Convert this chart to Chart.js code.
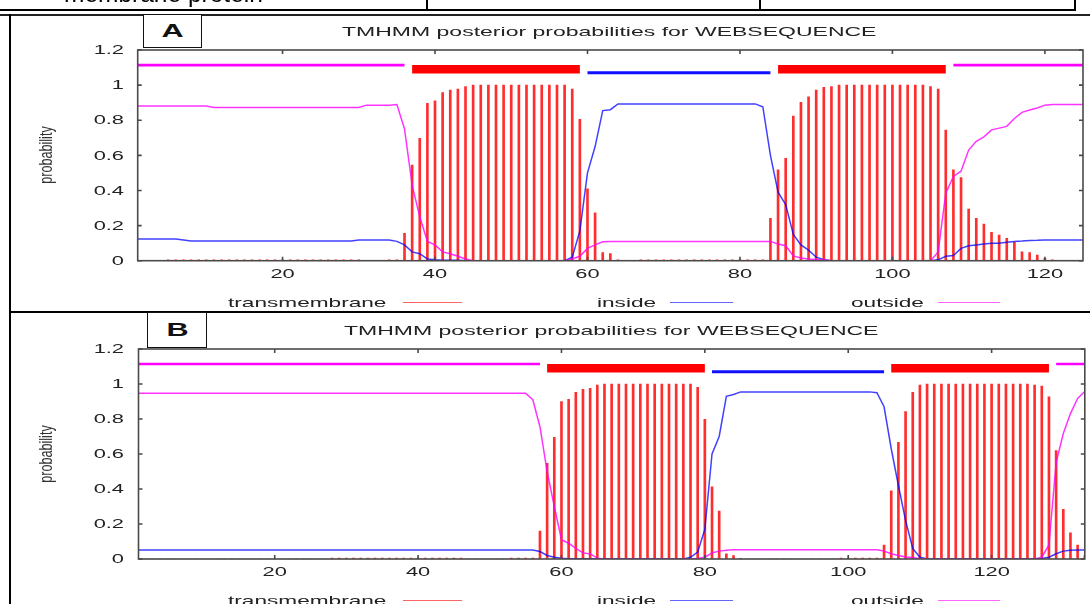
<!DOCTYPE html>
<html>
<head>
<meta charset="utf-8">
<script src="https://cdn.jsdelivr.net/npm/chart.js@4"></script>
<style>
  body { margin: 0; width: 1090px; height: 604px; overflow: hidden; position: relative; background: #fff;
         font-family: "Liberation Sans", Arial, sans-serif; }
  canvas { position: absolute; left: 0; top: 0; }
  .ln { position: absolute; background: #000; }
  .st { position: absolute; white-space: nowrap; font-size: 13px; line-height: 13px; color: #222;
        transform-origin: 0 0; }
  .box { position: absolute; border: 1.5px solid #111; box-sizing: border-box; background: #fff;
         display: flex; align-items: center; justify-content: center; }
  .box span { font-weight: bold; font-size: 18px; transform: scaleX(1.7); color: #111; }
  .ylab { position: absolute; font-size: 18px; color: #333; white-space: nowrap;
          transform: translate(-50%, -50%) rotate(-90deg) scaleX(0.7); }
  .key { position: absolute; height: 1.5px; }
</style>
</head>
<body>
<canvas id="chartA" width="1090" height="604"></canvas>
<canvas id="chartB" width="1090" height="604"></canvas>

<!-- document table lines -->
<div style="position:absolute;left:64px;top:-17.7px;font-size:24.5px;line-height:24.5px;white-space:nowrap;">membrane protein</div>
<div class="ln" style="left:0;top:9px;width:1076px;height:2px;"></div>
<div class="ln" style="left:426px;top:0;width:2px;height:10px;"></div>
<div class="ln" style="left:759px;top:0;width:2px;height:10px;"></div>
<div class="ln" style="left:1074px;top:0;width:2px;height:10px;"></div>
<div class="ln" style="left:0;top:14px;width:1090px;height:1.5px;background:#222;"></div>
<div class="ln" style="left:9px;top:14px;width:2px;height:590px;"></div>
<div class="ln" style="left:10px;top:311px;width:1080px;height:1.5px;"></div>

<!-- panel A -->
<div class="box" style="left:143px;top:14px;width:59px;height:34px;"><span>A</span></div>
<div class="st" style="left:342px;top:25px;transform:scaleX(1.77);">TMHMM posterior probabilities for WEBSEQUENCE</div>
<div class="ylab" style="left:46px;top:155.4px;">probability</div>
<div class="st" style="left:228px;top:295.7px;transform:scaleX(1.74);">transmembrane</div>
<div class="key" style="left:403px;top:301.5px;width:59px;background:#ff6464;"></div>
<div class="st" style="left:597px;top:295.7px;transform:scaleX(1.74);">inside</div>
<div class="key" style="left:670px;top:301.5px;width:63px;background:#6464ff;"></div>
<div class="st" style="left:851px;top:295.7px;transform:scaleX(1.74);">outside</div>
<div class="key" style="left:938px;top:301.5px;width:62px;background:#ff64ff;"></div>

<!-- panel B -->
<div class="box" style="left:147px;top:312px;width:60px;height:36px;"><span>B</span></div>
<div class="st" style="left:344px;top:323.5px;transform:scaleX(1.77);">TMHMM posterior probabilities for WEBSEQUENCE</div>
<div class="ylab" style="left:46px;top:454px;">probability</div>
<div class="st" style="left:228px;top:594px;transform:scaleX(1.74);">transmembrane</div>
<div class="key" style="left:403px;top:599.8px;width:59px;background:#ff6464;"></div>
<div class="st" style="left:597px;top:594px;transform:scaleX(1.74);">inside</div>
<div class="key" style="left:670px;top:599.8px;width:63px;background:#6464ff;"></div>
<div class="st" style="left:851px;top:594px;transform:scaleX(1.74);">outside</div>
<div class="key" style="left:938px;top:599.8px;width:62px;background:#ff64ff;"></div>

<script>
// tick labels
const xTickValues = [20, 40, 60, 80, 100, 120];
const yTickValues = [0, 0.2, 0.4, 0.6, 0.8, 1, 1.2];

// levels of the predicted-topology strip at the top of each plot
const topLevels = { outside: 1.114, TMhelix: 1.09, inside: 1.07 };

// ---------- A: 125 residues ----------
const lengthA = 125;
const segmentsA = [['outside', 1, 36], ['TMhelix', 37, 59], ['inside', 60, 84], ['TMhelix', 85, 107], ['outside', 108, 125]];

const tmA = [
  0, 0, 0, 0, .005, .005, .005, .005, .005, .005,               // 1-10
  .005, .005, .005, .005, .005, .005, .005, .005, .005, .005,   // 11-20
  .005, .005, .005, .005, .005, .005, .005, .005, .005, .005,   // 21-30
  0, 0, 0, .005, .005, .156, .545, .697, .896, .911,            // 31-40
  .957, .972, .978, .991, 1, 1, 1, 1, 1, 1,                     // 41-50
  1, 1, 1, 1, 1, 1, 1, .978, .805, .41,                         // 51-60
  .273, .046, .04, .005, 0, 0, .005, .005, .005, .005,          // 61-70
  .005, .005, .005, .005, .005, .005, .005, .005, .005, .005,   // 71-80
  .005, .005, .005, .241, .517, .583, .824, .902, .934, .972,   // 81-90
  .987, .991, 1, 1, 1, 1, 1, 1, 1, 1,                           // 91-100
  1, 1, 1, 1, .991, .978, .744, .517, .473, .294,               // 101-110
  .241, .209, .162, .146, .127, .105, .051, .046, .032, .014,   // 111-120
  .005, 0, 0, 0, 0                                              // 121-125
];
const insideA = [
  .124, .124, .124, .124, .124, .124, .118, .112, .112, .112,
  .112, .112, .112, .112, .112, .112, .112, .112, .112, .112,
  .112, .112, .112, .112, .112, .112, .112, .112, .112, .118,
  .118, .118, .118, .118, .11, .09, .05, .04, .01, .005,
  .002, .002, .002, 0, 0, 0, 0, 0, 0, 0,
  0, 0, 0, 0, 0, 0, 0, .02, .17, .5,
  .65, .855, .86, .893, .893, .893, .893, .893, .893, .893,
  .893, .893, .893, .893, .893, .893, .893, .893, .893, .893,
  .893, .893, .877, .6, .39, .32, .15, .09, .06, .02,
  .005, 0, 0, 0, 0, 0, 0, 0, 0, 0,
  0, 0, 0, 0, 0, .005, .025, .03, .07, .085,
  .09, .095, .1, .1, .105, .11, .112, .115, .116, .118,
  .118, .118, .118, .118, .118
];
const outsideA = [
  .881, .881, .881, .881, .881, .881, .881, .881, .881, .881,
  .873, .873, .873, .873, .873, .873, .873, .873, .873, .873,
  .873, .873, .873, .873, .873, .873, .873, .873, .873, .873,
  .886, .886, .886, .886, .89, .75, .43, .25, .11, .09,
  .05, .04, .025, .01, 0, 0, 0, 0, 0, 0,
  0, 0, 0, 0, 0, 0, 0, .01, .025, .07,
  .09, .108, .11, .11, .11, .11, .11, .11, .11, .11,
  .11, .11, .11, .11, .11, .11, .11, .11, .11, .11,
  .11, .11, .11, .11, .095, .085, .027, .015, .01, .007,
  .005, 0, 0, 0, 0, 0, 0, 0, 0, 0,
  0, 0, 0, 0, 0, .05, .384, .48, .51, .63,
  .68, .705, .745, .755, .765, .81, .845, .858, .87, .886,
  .89, .89, .89, .89, .89
];

// ---------- B: 133 residues ----------
const lengthB = 133;
const segmentsB = [['outside', 1, 57], ['TMhelix', 58, 80], ['inside', 81, 105], ['TMhelix', 106, 128], ['outside', 129, 133]];

const tmB = [
  0, 0, 0, 0, 0, 0, 0, 0, 0, 0,                                 // 1-10
  0, 0, 0, 0, 0, 0, 0, 0, 0, 0,                                 // 11-20
  0, 0, 0, 0, 0, 0, 0, .005, .005, .005,                        // 21-30
  .005, .005, .005, .005, .005, .005, .005, .005, .005, .005,   // 31-40
  .005, .005, .005, .005, .005, .005, 0, 0, 0, 0,               // 41-50
  0, 0, .005, .005, .005, .005, .16, .547, .695, .899,          // 51-60
  .912, .952, .97, .975, .994, 1, 1, 1, 1, 1,                   // 61-70
  1, 1, 1, 1, 1, 1, 1, 1, .981, .798,                           // 71-80
  .413, .274, .029, .019, .004, 0, 0, 0, 0, 0,                  // 81-90
  0, 0, 0, 0, 0, 0, 0, 0, .005, .005,                           // 91-100
  .005, .005, .005, .005, .08, .389, .667, .842, .952, .994,    // 101-110
  1, 1, 1, 1, 1, 1, 1, 1, 1, 1,                                 // 111-120
  1, 1, 1, 1, 1, .994, .988, .927, .619, .284,                  // 121-130
  .15, .08, .02                                                 // 131-133
];
const insideB = [
  .051, .051, .051, .051, .051, .051, .051, .051, .051, .051,
  .051, .051, .051, .051, .051, .051, .051, .051, .051, .051,
  .051, .051, .051, .051, .051, .051, .051, .051, .051, .051,
  .051, .051, .051, .051, .051, .051, .051, .051, .051, .051,
  .051, .051, .051, .051, .051, .051, .051, .051, .051, .051,
  .051, .051, .051, .051, .051, .051, .043, .02, .01, .004,
  .002, .002, .002, .002, 0, 0, 0, 0, 0, 0,
  0, 0, 0, 0, 0, 0, 0, .01, .04, .17,
  .6, .7, .93, .94, .955, .955, .955, .955, .955, .955,
  .955, .955, .955, .955, .955, .955, .955, .955, .955, .955,
  .955, .955, .955, .95, .87, .63, .42, .22, .06, .01,
  0, 0, 0, 0, 0, 0, 0, 0, 0, 0,
  0, 0, 0, 0, 0, 0, .003, .01, .03, .045,
  .05, .052, .052
];
const outsideB = [
  .947, .947, .947, .947, .947, .947, .947, .947, .947, .947,
  .947, .947, .947, .947, .947, .947, .947, .947, .947, .947,
  .947, .947, .947, .947, .947, .947, .947, .947, .947, .947,
  .947, .947, .947, .947, .947, .947, .947, .947, .947, .947,
  .947, .947, .947, .947, .947, .947, .947, .947, .947, .947,
  .947, .947, .947, .947, .947, .91, .756, .5, .3, .11,
  .09, .061, .035, .029, .005, 0, 0, 0, 0, 0,
  0, 0, 0, 0, 0, 0, 0, 0, .003, .01,
  .035, .045, .05, .053, .053, .053, .053, .053, .053, .053,
  .053, .053, .053, .053, .053, .053, .053, .053, .053, .053,
  .053, .053, .053, .053, .045, .03, .02, .012, .008, .002,
  0, 0, 0, 0, 0, 0, 0, 0, 0, 0,
  0, 0, 0, 0, 0, 0, .01, .08, .55, .717,
  .831, .918, .957
];

const FONT = '"Liberation Sans", Arial, sans-serif';
const segStyle = {
  outside: { color: '#ff00ff', width: 2.6 },
  TMhelix: { color: '#ff0000', width: 8.5 },
  inside:  { color: '#1010ff', width: 3 }
};

// text drawn wider than normal, like the stretched gnuplot image
function stretchText(ctx, text, x, y, align, sx) {
  ctx.save();
  ctx.translate(x, y);
  ctx.scale(sx, 1);
  ctx.textAlign = align;
  ctx.fillText(text, 0, 0);
  ctx.restore();
}

// gnuplot-style frame: border, inward ticks on all sides, tick labels
function makeFrame() {
  return {
    id: 'frame',
    afterDraw(chart) {
      const { ctx, chartArea: a, scales: { x, y } } = chart;
      ctx.save();
      ctx.strokeStyle = '#4a4a4a';
      ctx.lineWidth = 1.6;
      ctx.strokeRect(a.left, a.top, a.right - a.left, a.bottom - a.top);
      ctx.beginPath();
      xTickValues.forEach(v => {
        const px = x.getPixelForValue(v);
        ctx.moveTo(px, a.bottom); ctx.lineTo(px, a.bottom - 4);
        ctx.moveTo(px, a.top); ctx.lineTo(px, a.top + 4);
      });
      yTickValues.forEach(v => {
        const py = y.getPixelForValue(v);
        ctx.moveTo(a.left, py); ctx.lineTo(a.left + 4, py);
        ctx.moveTo(a.right, py); ctx.lineTo(a.right - 4, py);
      });
      ctx.stroke();

      ctx.fillStyle = '#222';
      ctx.font = '12px ' + FONT;
      ctx.textBaseline = 'alphabetic';
      xTickValues.forEach(v => stretchText(ctx, String(v), x.getPixelForValue(v), a.bottom + 17, 'center', 1.82));
      yTickValues.forEach(v => stretchText(ctx, String(v), 124, y.getPixelForValue(v) + 4.2, 'right', 1.82));
      ctx.restore();
    }
  };
}

function buildChart(id, pad, len, tm, inside, outside, segments) {
  const datasets = [];

  // predicted topology strip
  segments.forEach(([kind, start, end]) => {
    datasets.push({
      type: 'line',
      data: [{ x: start, y: topLevels[kind] }, { x: end, y: topLevels[kind] }],
      borderColor: segStyle[kind].color,
      borderWidth: segStyle[kind].width,
      borderCapStyle: 'butt',
      pointRadius: 0,
      order: 0
    });
  });

  datasets.push({
    type: 'line', label: 'outside',
    data: outside.map((v, i) => ({ x: i + 1, y: v })),
    borderColor: 'rgba(255,0,255,0.8)', borderWidth: 1.5, pointRadius: 0, order: 1
  });
  datasets.push({
    type: 'line', label: 'inside',
    data: inside.map((v, i) => ({ x: i + 1, y: v })),
    borderColor: 'rgba(0,0,255,0.75)', borderWidth: 1.5, pointRadius: 0, order: 2
  });
  datasets.push({
    type: 'bar', label: 'transmembrane',
    data: tm.map((v, i) => ({ x: i + 1, y: v })),
    backgroundColor: 'rgba(255,0,0,0.82)', barThickness: 2, borderWidth: 0, order: 3
  });

  return new Chart(document.getElementById(id), {
    type: 'line',
    data: { datasets },
    options: {
      responsive: false,
      animation: false,
      events: [],
      layout: { padding: pad },
      plugins: { legend: { display: false }, tooltip: { enabled: false } },
      scales: {
        x: { type: 'linear', min: 1, max: len, offset: false, display: false },
        y: { type: 'linear', min: 0, max: 1.2, display: false }
      }
    },
    plugins: [makeFrame()]
  });
}

buildChart('chartA', { left: 137.7, top: 50, right: 7, bottom: 343.3 }, lengthA, tmA, insideA, outsideA, segmentsA);
buildChart('chartB', { left: 138.5, top: 349, right: 5.2, bottom: 45 }, lengthB, tmB, insideB, outsideB, segmentsB);
</script>
</body>
</html>
